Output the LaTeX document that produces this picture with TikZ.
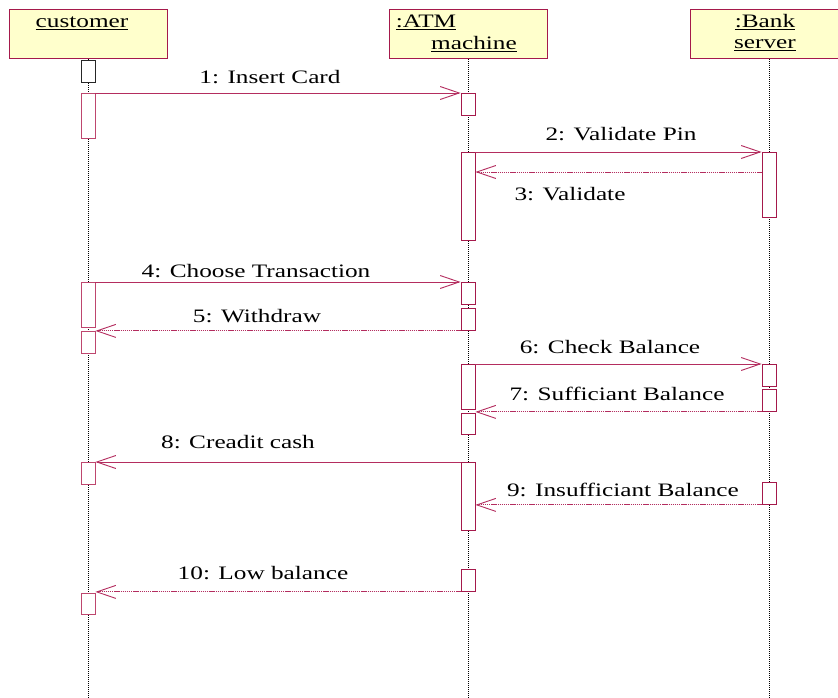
\documentclass[tikz,border=0pt]{standalone}
\usepackage{fontspec}
\setmainfont{Liberation Serif}[FakeStretch=1.33]
\usetikzlibrary{arrows.meta}
\definecolor{umlred}{RGB}{165,25,75}
\definecolor{msgred}{RGB}{180,45,95}
\definecolor{actpink}{RGB}{190,70,110}
\definecolor{umlfill}{RGB}{255,255,204}
\begin{document}
\begin{tikzpicture}[x=1pt,y=-1pt,
  hdr/.style={draw=umlred, fill=umlfill, line width=1.1pt, minimum width=158pt, minimum height=49pt, inner sep=0pt, anchor=north west},
  act/.style={draw=umlred, fill=white, line width=0.9pt, minimum width=14pt, inner sep=0pt, anchor=north},
  cact/.style={act, draw=actpink},
  life/.style={draw=black, line width=0.6pt, dash pattern=on 1pt off 1pt},
  msg/.style={draw=msgred, line width=0.9pt, -{Straight Barb[length=19pt,width=13pt]}},
  ret/.style={msg, dash pattern=on 1.2pt off 0.7pt},
  lbl/.style={anchor=base, inner sep=0pt, font=\fontsize{19}{21}\selectfont},
]
\clip (0,0) rectangle (838,698);
\fill[white] (0,0) rectangle (838,698);
\coordinate (bot) at (0,698);
% headers
\node[hdr] (cust) at (9,9) {};
\node[hdr] (atm) at (389,9) {};
\node[hdr] (bank) at (690,9) {};
\node[lbl] (tc) at (82,28) {\underline{customer}};
\node[lbl] (ta1) at (426,28) {\underline{:ATM}};
\node[lbl] (ta2) at (474,50) {\underline{machine}};
\node[lbl] (tb1) at (765,28) {\underline{:Bank}};
\node[lbl] (tb2) at (765,49) {\underline{server}};
% lifelines
\draw[life] (cust.south) -- (cust.south |- bot);
\draw[life] (atm.south) -- (atm.south |- bot);
\draw[life] (bank.south) -- (bank.south |- bot);
% activations: customer
\node[act, draw=black!85, minimum height=22pt] (c0) at (88,60) {};
\node[cact, minimum height=45pt] (c1) at (88,93) {};
\node[cact, minimum height=45pt] (c2) at (88,282) {};
\node[cact, minimum height=22pt] (c3) at (88,331) {};
\node[cact, minimum height=22pt] (c4) at (88,462) {};
\node[cact, minimum height=21pt] (c5) at (88,593) {};
% activations: ATM
\node[act, minimum height=22pt] (a1) at (468,93) {};
\node[act, minimum height=88pt] (a2) at (468,152) {};
\node[act, minimum height=22pt] (a3) at (468,282) {};
\node[act, minimum height=22pt] (a4) at (468,308) {};
\node[act, minimum height=45pt] (a5) at (468,364) {};
\node[act, minimum height=21pt] (a6) at (468,413) {};
\node[act, minimum height=68pt] (a7) at (468,462) {};
\node[act, minimum height=22pt] (a8) at (468,569) {};
% activations: bank
\node[act, minimum height=65pt] (k1) at (769,152) {};
\node[act, minimum height=22pt] (k2) at (769,364) {};
\node[act, minimum height=22pt] (k3) at (769,389) {};
\node[act, minimum height=22pt] (k4) at (769,482) {};
% messages
\draw[msg] (c1.north east) -- (a1.north west);
\draw[msg] (a2.north east) -- (k1.north west);
\draw[ret] ([yshift=-20pt]k1.north west) -- ([yshift=-20pt]a2.north east);
\draw[msg] (c2.north east) -- (a3.north west);
\draw[ret] (a4.south west) -- (a4.south west -| c3.east);
\draw[msg] (a5.north east) -- (k2.north west);
\draw[ret] (k3.south west) -- (k3.south west -| a6.east);
\draw[msg] (a7.north west) -- (c4.north east);
\draw[ret] (k4.south west) -- (k4.south west -| a7.east);
\draw[ret] (a8.south west) -- (a8.south west -| c5.east);
% labels
\node[lbl] (l1) at (270,84) {1: Insert Card};
\node[lbl] (l2) at (621,141) {2: Validate Pin};
\node[lbl] (l3) at (570,200) {3: Validate};
\node[lbl] (l4) at (256,277) {4: Choose Transaction};
\node[lbl] (l5) at (257,322) {5: Withdraw};
\node[lbl] (l6) at (610,353) {6: Check Balance};
\node[lbl] (l7) at (617,400) {7: Sufficiant Balance};
\node[lbl] (l8) at (238,448) {8: Creadit cash};
\node[lbl] (l9) at (623,496) {9: Insufficiant Balance};
\node[lbl] (l10) at (263,579) {10: Low balance};
\end{tikzpicture}
\end{document}
